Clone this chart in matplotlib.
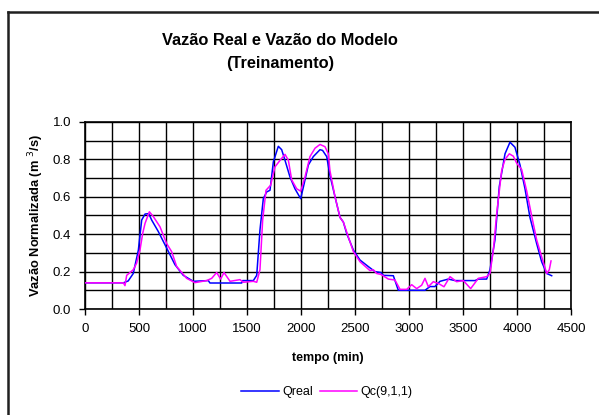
import matplotlib
matplotlib.use("Agg")
import matplotlib.pyplot as plt
from matplotlib.ticker import MultipleLocator
from matplotlib.lines import Line2D

plt.rcParams['font.family'] = ['Liberation Sans', 'DejaVu Sans']

# Qreal (blue)
t_real = [0, 355, 400, 447, 494, 525, 556, 590, 617, 679, 756, 833, 910, 1003, 1142, 1157,
          1451, 1460, 1559, 1590, 1620, 1651, 1682, 1713, 1744, 1790, 1821, 1852, 1898, 1944,
          1997, 2022, 2068, 2114, 2176, 2200, 2238, 2268, 2315, 2361, 2392, 2423, 2485, 2546,
          2623, 2685, 2740, 2762, 2855, 2901, 3148, 3194, 3240, 3287, 3364, 3426, 3611, 3642,
          3719, 3750, 3796, 3836, 3889, 3935, 3981, 4028, 4074, 4120, 4182, 4228, 4275, 4321]
q_real = [0.14, 0.14, 0.15, 0.19, 0.315, 0.476, 0.508, 0.51, 0.476, 0.414, 0.326, 0.237, 0.18,
          0.148, 0.152, 0.139, 0.139, 0.152, 0.152, 0.18, 0.422, 0.59, 0.626, 0.635, 0.787, 0.87,
          0.852, 0.795, 0.706, 0.643, 0.59, 0.652, 0.77, 0.815, 0.852, 0.848, 0.815, 0.715, 0.6,
          0.49, 0.465, 0.404, 0.315, 0.262, 0.227, 0.2, 0.195, 0.18, 0.178, 0.1, 0.1, 0.12, 0.12,
          0.148, 0.16, 0.152, 0.152, 0.16, 0.16, 0.21, 0.37, 0.655, 0.83, 0.892, 0.865, 0.77,
          0.643, 0.49, 0.35, 0.253, 0.19, 0.178]

# Qc(9,1,1) (magenta)
t_mod = [0, 355, 370, 386, 447, 478, 509, 534, 556, 596, 633, 694, 756, 802, 849, 941, 1018,
         1127, 1173, 1219, 1256, 1287, 1343, 1435, 1466, 1559, 1590, 1620, 1645, 1676, 1719,
         1759, 1806, 1852, 1883, 1914, 1960, 1997, 2037, 2083, 2130, 2176, 2222, 2253, 2268,
         2315, 2361, 2392, 2438, 2485, 2546, 2639, 2670, 2700, 2740, 2809, 2870, 2917, 2979,
         3025, 3071, 3117, 3148, 3179, 3225, 3271, 3324, 3380, 3441, 3503, 3571, 3642, 3719,
         3750, 3781, 3812, 3858, 3889, 3929, 3966, 3997, 4043, 4090, 4136, 4182, 4228, 4275,
         4299, 4315]
q_mod = [0.14, 0.14, 0.125, 0.18, 0.21, 0.245, 0.315, 0.404, 0.458, 0.52, 0.494, 0.44, 0.35,
         0.307, 0.227, 0.164, 0.141, 0.152, 0.164, 0.195, 0.16, 0.195, 0.148, 0.157, 0.143,
         0.148, 0.143, 0.21, 0.476, 0.635, 0.662, 0.76, 0.795, 0.827, 0.795, 0.69, 0.643, 0.63,
         0.706, 0.815, 0.86, 0.88, 0.868, 0.83, 0.74, 0.6, 0.49, 0.465, 0.386, 0.307, 0.253,
         0.205, 0.21, 0.19, 0.185, 0.16, 0.155, 0.105, 0.105, 0.13, 0.109, 0.127, 0.164, 0.119,
         0.146, 0.137, 0.119, 0.173, 0.146, 0.152, 0.109, 0.164, 0.173, 0.19, 0.315, 0.51, 0.74,
         0.8, 0.83, 0.817, 0.78, 0.746, 0.63, 0.497, 0.37, 0.28, 0.19, 0.21, 0.257]

title = "Vazão Real e Vazão do Modelo\n(Treinamento)"
xlabel = "tempo (min)"
ylabel = "Vazão Normalizada (m $^{3}$/s)"
labels = ["Qreal", "Qc(9,1,1)"]

W, H = 599, 415
fig = plt.figure(figsize=(W / 100, H / 100), dpi=100)
fig.patch.set_facecolor('white')

# outer frame (left and top edges visible)
fig.add_artist(Line2D([8 / W, 8 / W], [0, 1 - 12 / H], transform=fig.transFigure,
                      color='#202020', lw=1.8))
fig.add_artist(Line2D([8 / W, 1], [1 - 12 / H, 1 - 12 / H], transform=fig.transFigure,
                      color='#202020', lw=1.8))

left, right, top, bottom = 85, 571, 122, 309
ax = fig.add_axes([left / W, 1 - bottom / H, (right - left) / W, (bottom - top) / H])

ax.plot(t_real, q_real, color='#0000ff', lw=1.1, label=labels[0], zorder=3)
ax.plot(t_mod, q_mod, color='#ff00ff', lw=1.1, label=labels[1], zorder=4)

ax.set_xlim(0, 4500)
ax.set_ylim(0, 1.0)
ax.xaxis.set_major_locator(MultipleLocator(500))
ax.xaxis.set_minor_locator(MultipleLocator(250))
ax.yaxis.set_major_locator(MultipleLocator(0.2))
ax.yaxis.set_minor_locator(MultipleLocator(0.1))
ax.grid(which='both', color='black', lw=1.0)
ax.set_axisbelow(True)
ax.tick_params(which='major', direction='out', length=4, width=1, labelsize=9.5, pad=6)
ax.tick_params(which='minor', length=0)
ax.yaxis.set_major_formatter(plt.FuncFormatter(lambda v, p: f"{v:.1f}"))
for s in ax.spines.values():
    s.set_linewidth(1.2)

ax.set_xlabel(xlabel, fontsize=9, fontweight='bold', labelpad=12)
ax.set_ylabel(ylabel, fontsize=9.3, fontweight='bold', labelpad=5)

fig.text(280 / W, 1 - 52 / H, title, ha='center', va='center', fontsize=11.8,
         fontweight='bold', linespacing=1.65)

fig.legend(loc='center', bbox_to_anchor=(327 / W, 1 - 392 / H), ncol=2, frameon=False,
           fontsize=9, handlelength=3.0, columnspacing=0.5, handletextpad=0.3)

fig.savefig("out.png", dpi=100)
